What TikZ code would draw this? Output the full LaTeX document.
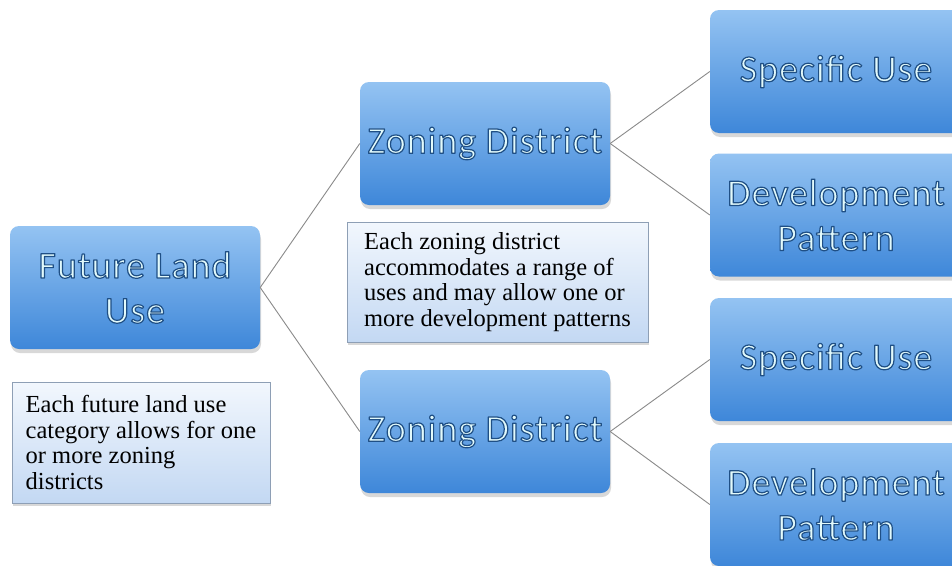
\documentclass[tikz,border=0pt]{standalone}
\usepackage{fontspec}
\usetikzlibrary{shadows}
\newfontfamily\ttlfont[LetterSpace=2.5]{Carlito}
\newfontfamily\notefont{Liberation Serif}
\definecolor{ttop}{HTML}{94C3F2}
\definecolor{tbot}{HTML}{3E87D9}
\definecolor{ttltext}{HTML}{E2FAFB}
\definecolor{notetop}{HTML}{F2F7FD}
\definecolor{notebot}{HTML}{C3D8F3}
\definecolor{noteline}{HTML}{8E9FB5}
\definecolor{linkc}{HTML}{8A8A8A}
% outlined title text: fill and stroke
\newcommand{\ttl}[1]{\special{pdf:code 2 Tr 0.12 0.31 0.52 RG 1.2 w 1 j}#1\special{pdf:code 0 Tr}}
\begin{document}
\begin{tikzpicture}[x=1pt,y=-1pt]

     \tikzstyle{title}=[rounded corners=9pt,top color=ttop,bottom color=tbot,draw=none,
        drop shadow={shadow xshift=1pt,shadow yshift=-4pt,opacity=0.3},
        text=ttltext,align=center,font=\ttlfont\fontsize{38}{45}\selectfont,
        minimum width=250pt,minimum height=123pt,inner sep=2pt]
     \tikzstyle{note}=[draw=noteline,line width=0.8pt,top color=notetop,bottom color=notebot,
        drop shadow={shadow xshift=1pt,shadow yshift=-3pt,opacity=0.3},
        align=left,font=\notefont\fontsize{24.5}{25.7}\selectfont,
        minimum height=120pt,inner sep=4pt]
     \tikzstyle{link}=[draw=linkc,line width=0.9pt]

      \useasboundingbox[fill=white] (0,0) rectangle (952,565);

      \begin{scope}
         \node[title] (flu) at (135,287.5) {\ttl{Future Land}\\\ttl{Use}};

         \node[title] (z1) at (485,143.5) {\ttl{Zoning District}};
         \node[title] (z2) at (485,431.5) {\ttl{Zoning District}};

         \node[title,minimum width=252pt] (s1) at (836,71.5) {\ttl{Specific Use}};
         \node[title,minimum width=252pt] (d1) at (836,215) {\ttl{Development}\\\ttl{Pattern}};
         \node[title,minimum width=252pt] (s2) at (836,359.5) {\ttl{Specific Use}};
         \node[title,minimum width=252pt] (d2) at (836,504.5) {\ttl{Development}\\\ttl{Pattern}};

         \node[note,minimum width=258pt,minimum height=121pt] (n1) at (141,442.5)
            {Each future land use\\category allows for one\\or more zoning\\districts};
         \node[note,minimum width=301pt] (n2) at (497.5,282)
            {Each zoning district\\accommodates a range of\\uses and may allow one or\\more development patterns};

         \draw[link] (flu.east) -- (z1.west);
         \draw[link] (flu.east) -- (z2.west);
         \draw[link] (z1.east) -- (s1.west);
         \draw[link] (z1.east) -- (d1.west);
         \draw[link] (z2.east) -- (s2.west);
         \draw[link] (z2.east) -- (d2.west);
      \end{scope}
  \end{tikzpicture}
\end{document}
